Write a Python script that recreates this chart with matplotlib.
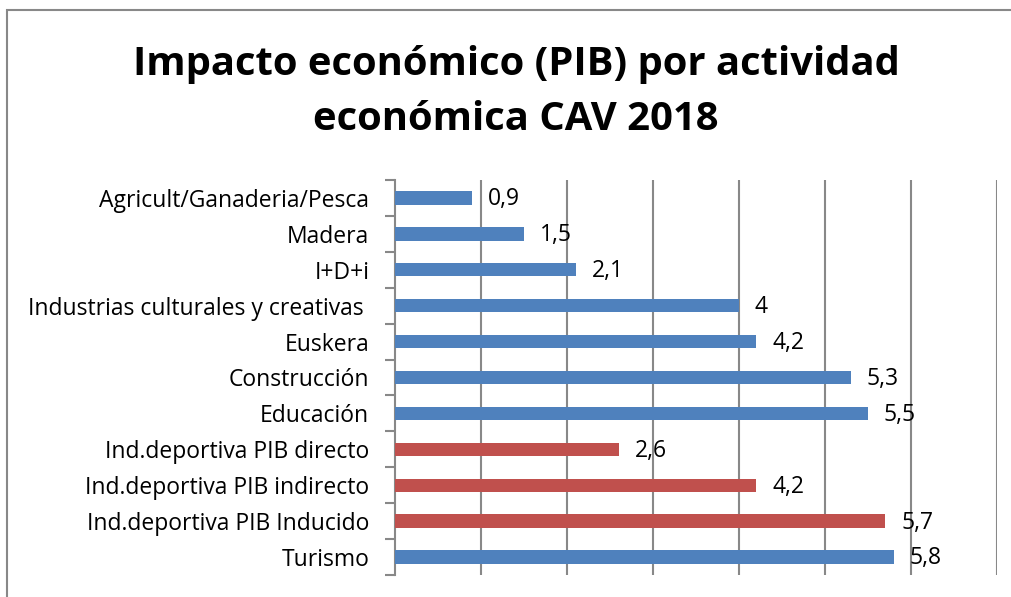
import matplotlib.pyplot as plt
from matplotlib.patches import Rectangle
import numpy as np

categorias = [
    "Agricult/Ganaderia/Pesca",
    "Madera",
    "I+D+i",
    "Industrias culturales y creativas ",
    "Euskera",
    "Construcción",
    "Educación",
    "Ind.deportiva PIB directo",
    "Ind.deportiva PIB indirecto",
    "Ind.deportiva PIB Inducido",
    "Turismo",
]
valores = [0.9, 1.5, 2.1, 4, 4.2, 5.3, 5.5, 2.6, 4.2, 5.7, 5.8]
deporte = [False, False, False, False, False, False, False, True, True, True, False]

AZUL = "#4F81BD"
ROJO = "#C0504D"
GRIS = "#888888"

plt.rcParams['font.family'] = ['Open Sans', 'DejaVu Sans']

fig = plt.figure(figsize=(10.12, 5.97), dpi=100)
ax = fig.add_axes([395 / 1012, 1 - 575 / 597, 602 / 1012, 395 / 597])

y = np.arange(len(categorias))
colores = [ROJO if d else AZUL for d in deporte]
ax.barh(y, valores, height=0.37, color=colores, zorder=3)

for yi, v in zip(y, valores):
    txt = f"{v:g}".replace(".", ",")
    ax.annotate(txt, (v, yi), xytext=(11.5, -1), textcoords="offset points",
                ha="left", va="center", fontsize=16.5, zorder=4)

ax.set_xlim(0, 7)
ax.set_ylim(len(categorias) - 0.5, -0.5)

# rejilla vertical
ax.set_xticks(np.arange(1, 8))
ax.tick_params(axis="x", length=0, labelbottom=False)
ax.grid(axis="x", color=GRIS, linewidth=1.5, zorder=0)

# marcas en los límites de categoría, etiquetas en el centro
ax.set_yticks(np.arange(-0.5, len(categorias)))
ax.set_yticks(y, minor=True)
ax.set_yticklabels(categorias, minor=True, fontsize=16.5)
ax.tick_params(axis="y", which="major", length=7, width=1.5, color=GRIS, labelleft=False)
ax.tick_params(axis="y", which="minor", length=0, pad=18.5)

for lado in ["top", "right", "bottom"]:
    ax.spines[lado].set_visible(False)
ax.spines["left"].set_color(GRIS)
ax.spines["left"].set_linewidth(1.5)

fig.text(0.51, 1 - 92 / 597, "Impacto económico (PIB) por actividad\neconómica CAV 2018",
         ha="center", va="center", fontsize=28.8, fontweight="bold", linespacing=1.5)

# marco del gráfico
fig.patches.append(Rectangle((7 / 1012, -0.1), 1.2, 1.1 - 10 / 597,
                             transform=fig.transFigure, fill=False,
                             edgecolor=GRIS, linewidth=1.5))

fig.savefig("out.png", dpi=100)
